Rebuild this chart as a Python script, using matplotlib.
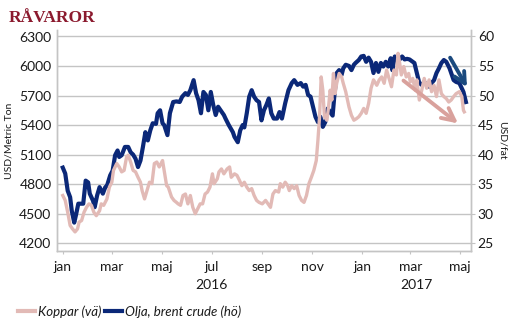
import pandas as pd
import matplotlib
matplotlib.use("Agg")
import matplotlib.pyplot as plt
from matplotlib.lines import Line2D

# -----------------------------
# COLORS / FONTS
# -----------------------------
COPPER_COLOR = "#E2BAB6"
OIL_COLOR = "#0B2878"
ARROW_PINK = "#D9A19C"
ARROW_BLUE = "#1B4A7E"
TITLE_COLOR = "#8B1A2E"
GRID_COLOR = "#C4C4C4"
TEXT_COLOR = "#1A1A1A"

plt.rcParams["font.family"] = ["Lato", "DejaVu Sans"]

START = pd.Timestamp("2016-01-01")

# -----------------------------
# DATA (days after 2016-01-01)
# -----------------------------
copper_days = [0, 3, 6, 9, 12, 15, 18, 20, 23, 26,
               29, 32, 35, 38, 41, 45, 47, 50, 54, 57,
               60, 62, 66, 69, 72, 75, 78, 80, 83, 86,
               89, 92, 95, 97, 100, 103, 106, 109, 112, 115,
               118, 122, 124, 127, 129, 133, 136, 139, 141, 144,
               147, 150, 153, 156, 159, 162, 165, 168, 171, 174,
               177, 180, 183, 185, 189, 191, 194, 197, 201, 204,
               206, 210, 213, 216, 219, 222, 225, 228, 231, 234,
               237, 240, 244, 248, 251, 254, 257, 260, 264, 266,
               269, 272, 275, 277, 280, 283, 286, 289, 292, 295,
               298, 301, 304, 307, 310, 312, 314, 315, 316, 318,
               320, 323, 325, 327, 329, 331, 333, 335, 338, 341,
               343, 346, 350, 353, 356, 359, 362, 365, 368, 371,
               374, 377, 380, 384, 387, 390, 393, 396, 399, 402,
               405, 408, 410, 412, 414, 417, 420, 423, 425, 428,
               431, 433, 436, 439, 442, 445, 448, 451, 454, 457,
               460, 463, 466, 469, 472, 475, 478, 481, 485, 488,
               490, 491]
copper_usd = [4685, 4635, 4515, 4380, 4345, 4315, 4345, 4415, 4430, 4515,
              4565, 4600, 4585, 4515, 4480, 4530, 4600, 4585, 4650, 4770,
              4820, 4940, 5010, 4975, 4925, 4940, 5075, 5095, 5025, 4940,
              4925, 4870, 4820, 4735, 4650, 4735, 4820, 4805, 5010, 5025,
              4975, 5040, 4940, 4785, 4770, 4670, 4635, 4615, 4600, 4585,
              4685, 4700, 4600, 4685, 4565, 4500, 4550, 4600, 4600, 4700,
              4720, 4770, 4905, 4805, 4855, 4925, 4955, 4905, 4955, 4975,
              4870, 4905, 4890, 4840, 4785, 4820, 4770, 4735, 4755, 4685,
              4635, 4615, 4600, 4635, 4600, 4565, 4700, 4735, 4720, 4805,
              4770, 4820, 4785, 4735, 4785, 4755, 4785, 4685, 4635, 4615,
              4685, 4805, 4870, 4940, 5040, 5245, 5485, 5690, 5890, 5755,
              5485, 5450, 5585, 5755, 5655, 5925, 5720, 5825, 5925, 5890,
              5825, 5740, 5585, 5500, 5450, 5465, 5485, 5520, 5570, 5520,
              5620, 5775, 5860, 5805, 5860, 5890, 5825, 5960, 5875, 5790,
              5960, 5910, 6130, 6030, 5910, 5995, 5890, 5925, 5840, 5875,
              5755, 5860, 5655, 5755, 5875, 5775, 5860, 5740, 5805, 5690,
              5860, 5720, 5690, 5670, 5635, 5655, 5690, 5720, 5740, 5690,
              5550, 5535]

oil_days = [0, 3, 6, 9, 11, 14, 16, 19, 22, 25,
            28, 31, 33, 37, 39, 42, 45, 49, 52, 54,
            58, 61, 64, 67, 69, 72, 76, 80, 83, 86,
            89, 92, 95, 98, 101, 104, 107, 110, 114, 116,
            119, 122, 124, 128, 131, 135, 139, 143, 146, 150,
            153, 156, 160, 163, 166, 169, 172, 175, 178, 181,
            184, 187, 190, 193, 197, 199, 203, 208, 210, 214,
            217, 220, 222, 225, 228, 231, 234, 237, 240, 243,
            246, 249, 252, 255, 258, 262, 265, 268, 272, 276,
            280, 283, 287, 291, 294, 297, 300, 303, 306, 309,
            312, 315, 318, 321, 324, 327, 330, 332, 335, 338,
            341, 343, 346, 350, 353, 356, 358, 362, 365, 368,
            371, 374, 377, 380, 383, 386, 389, 392, 395, 398,
            401, 403, 406, 409, 412, 415, 418, 421, 424, 428,
            430, 433, 436, 439, 442, 445, 448, 451, 454, 457,
            460, 463, 466, 469, 473, 475, 478, 481, 485, 487,
            490, 493]
oil_usd = [37.8, 36.8, 33.9, 32.8, 30.5, 28.5, 29.7, 31.7, 31.7, 31.7,
           35.6, 35.3, 33.4, 32.2, 31.1, 33.1, 34.5, 33.4, 34.5, 34.7,
           36.5, 37.3, 39.9, 40.7, 39.6, 39.9, 41.3, 41.3, 40.4, 40.0,
           39.3, 37.9, 39.0, 41.3, 43.8, 42.4, 44.1, 45.3, 45.2, 47.0,
           47.5, 45.3, 45.0, 43.3, 47.0, 48.9, 49.0, 48.9, 49.8, 50.4,
           50.1, 50.9, 52.6, 50.4, 49.2, 47.0, 50.6, 50.1, 47.5, 50.6,
           48.4, 46.7, 48.1, 47.5, 46.7, 46.1, 45.0, 43.8, 43.0, 42.1,
           44.1, 45.0, 44.6, 47.0, 49.8, 50.9, 49.8, 49.2, 48.9, 45.8,
           47.5, 48.4, 49.5, 47.0, 46.1, 46.1, 47.2, 46.1, 48.7, 50.9,
           52.1, 52.6, 51.8, 52.1, 51.5, 51.8, 50.1, 49.8, 48.1, 46.4,
           45.5, 46.4, 44.7, 45.5, 47.8, 47.2, 46.6, 49.8, 53.8, 54.3,
           53.5, 54.6, 55.2, 55.0, 54.3, 55.2, 55.5, 56.0, 56.6, 56.7,
           55.7, 56.4, 55.7, 53.8, 55.5, 54.0, 55.5, 54.9, 55.7, 54.9,
           56.3, 54.3, 56.6, 56.1, 56.1, 56.6, 56.1, 56.2, 56.1, 55.7,
           55.5, 53.8, 52.1, 51.8, 52.3, 51.8, 51.5, 52.1, 52.6, 53.8,
           54.6, 55.5, 56.0, 55.7, 54.6, 53.8, 52.6, 52.3, 52.1, 51.5,
           50.6, 48.9]

month_ticks = ["2016-01-01", "2016-03-01", "2016-05-01", "2016-07-01", "2016-09-01",
               "2016-11-01", "2017-01-01", "2017-03-01", "2017-05-01"]
month_labels = ["jan", "mar", "maj", "jul", "sep", "nov", "jan", "mar", "maj"]
year_labels = ["2016", "2017"]
year_centers = ["2016-07-01", "2017-03-08"]
left_ticks = [4200, 4500, 4800, 5100, 5400, 5700, 6000, 6300]
right_ticks = [25, 30, 35, 40, 45, 50, 55, 60]

copper_dates = START + pd.to_timedelta(copper_days, unit="D")
oil_dates = START + pd.to_timedelta(oil_days, unit="D")

# -----------------------------
# FIGURE
# -----------------------------
fig = plt.figure(figsize=(5.14, 3.32), dpi=100)
ax = fig.add_axes([0.111, 0.244, 0.805, 0.666])
ax2 = ax.twinx()
ax.set_zorder(ax2.get_zorder() + 1)
ax.patch.set_visible(False)

ax2.plot(oil_dates, oil_usd, color=OIL_COLOR, lw=3.0, solid_joinstyle="round")
ax.plot(copper_dates, copper_usd, color=COPPER_COLOR, lw=2.4, solid_joinstyle="round")

ax.set_xlim(pd.Timestamp("2015-12-25"), pd.Timestamp("2017-05-14"))
ax.set_ylim(4121, 6368)
ax2.set_ylim(23.7, 61.1)

ax.set_yticks(left_ticks)
ax.set_yticklabels([str(v) for v in left_ticks])
ax2.set_yticks(right_ticks)
ax2.set_yticklabels([str(v) for v in right_ticks])
ax.set_xticks(pd.to_datetime(month_ticks))
ax.set_xticklabels(month_labels)

ax2.grid(axis="y", color=GRID_COLOR, lw=1.0)
ax.grid(False)

for a in (ax, ax2):
    a.spines["top"].set_visible(False)
    for s in ("left", "right", "bottom"):
        a.spines[s].set_color(GRID_COLOR)
        a.spines[s].set_linewidth(1.0)
ax.tick_params(axis="x", length=2, color=GRID_COLOR, labelsize=10, labelcolor=TEXT_COLOR, pad=5)
ax.tick_params(axis="y", length=0, labelsize=10, labelcolor=TEXT_COLOR, pad=4)
ax2.tick_params(axis="y", length=3, color=GRID_COLOR, labelsize=10, labelcolor=TEXT_COLOR, pad=2)

ax.set_ylabel("USD/Metric Ton", fontsize=7.5, color=TEXT_COLOR, labelpad=4)
ax2.set_ylabel("USD/fat", fontsize=7.5, color=TEXT_COLOR, rotation=-90, labelpad=9)

for lab, c in zip(year_labels, year_centers):
    ax.annotate(lab, xy=(pd.Timestamp(c), 0), xycoords=("data", "axes fraction"),
                xytext=(0, -24.5), textcoords="offset points", ha="center", va="center",
                fontsize=10, color=TEXT_COLOR)

# trend arrows
ax.annotate("", xy=(START + pd.Timedelta(days=486), 5400),
            xytext=(START + pd.Timedelta(days=414), 5870),
            arrowprops=dict(arrowstyle="->,head_length=0.9,head_width=0.45",
                            color=ARROW_PINK, lw=2.8))
ax2.annotate("", xy=(START + pd.Timedelta(days=496), 51.0),
             xytext=(START + pd.Timedelta(days=472), 56.8),
             arrowprops=dict(arrowstyle="->,head_length=0.8,head_width=0.4",
                             color=ARROW_BLUE, lw=2.8))

fig.text(0.016, 0.945, "RÅVAROR", family="Liberation Serif", fontweight="bold",
         fontsize=12.5, color=TITLE_COLOR, ha="left", va="center")

handles = [Line2D([], [], color=COPPER_COLOR, lw=3),
           Line2D([], [], color=OIL_COLOR, lw=3)]
fig.legend(handles, ["Koppar (vä)", "Olja, brent crude (hö)"], loc="center left",
           bbox_to_anchor=(0.012, 0.062), ncol=2, frameon=False, handlelength=1.3,
           handletextpad=0.2, columnspacing=0.3, prop=dict(style="italic", size=9.5),
           labelcolor=TEXT_COLOR)

fig.savefig("out.png", dpi=100)
